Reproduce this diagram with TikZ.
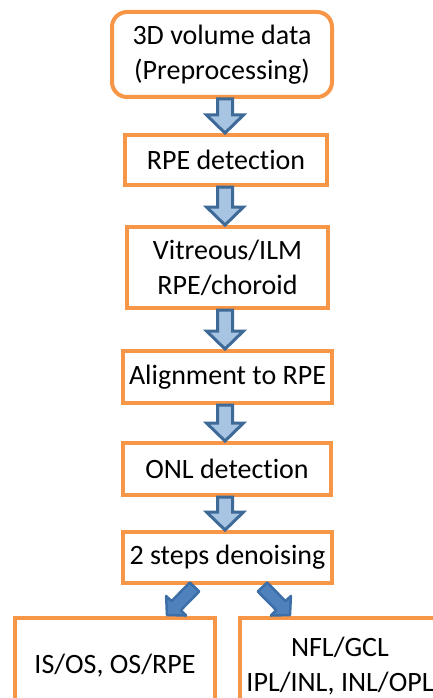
\documentclass[tikz,border=0pt]{standalone}
\usepackage{fontspec}
\setmainfont{Carlito}[Ligatures=NoCommon]
\usetikzlibrary{calc}
\definecolor{boxorange}{HTML}{F79646}
\definecolor{arrowfill}{HTML}{A7C4E2}
\definecolor{arrowline}{HTML}{3E6A98}
\definecolor{diagfill}{HTML}{4F81BD}
\definecolor{diagline}{HTML}{3C6EA8}
\tikzset{
  stepbox/.style={draw=boxorange, line width=4pt, fill=white, inner sep=0pt,
    align=center, font=\fontsize{28}{35}\selectfont},
  vblock/.style={draw=arrowline, fill=arrowfill, line width=3pt, line join=miter},
  dblock/.style={draw=diagline, fill=diagfill, line width=2.5pt, line join=round},
}
% #1 style, #2 from, #3 to, #4 shaft half width, #5 head half width, #6 head length
\newcommand\blockarrow[6]{%
  \draw[#1] let \p1=($(#3)!#6!(#2)$) in
    ($(#2)!#4!90:(#3)$) -- ($(\p1)!#4!90:(#3)$) -- ($(\p1)!#5!90:(#3)$) -- (#3)
    -- ($(\p1)!#5!-90:(#3)$) -- ($(\p1)!#4!-90:(#3)$) -- ($(#2)!#4!-90:(#3)$) -- cycle;}
\begin{document}
\begin{tikzpicture}[x=1pt,y=-1pt]
\useasboundingbox (0,0) rectangle (433,698);
\begin{scope}
\clip (0,0) rectangle (433,698);
\node[stepbox, rounded corners=15pt, minimum width=220pt, minimum height=85pt] (b1) at (222,54.5) {3D volume data\\(Preprocessing)};
\node[stepbox, minimum width=202pt, minimum height=50pt] (b2) at (226,160) {RPE detection};
\node[stepbox, minimum width=201pt, minimum height=81pt] (b3) at (227.5,267.5) {Vitreous/ILM\\RPE/choroid};
\node[stepbox, minimum width=209pt, minimum height=52pt] (b4) at (227.5,377) {Alignment to RPE};
\node[stepbox, minimum width=208pt, minimum height=52pt] (b5) at (227,469) {ONL detection};
\node[stepbox, minimum width=209pt, minimum height=51pt] (b6) at (227.5,557.5) {2 steps denoising};
\node[stepbox, minimum width=200pt, minimum height=96pt] (b7) at (115,666) {IS/OS, OS/RPE};
\node[stepbox, minimum width=200pt, minimum height=96pt] (b8) at (340,666) {NFL/GCL\\IPL/INL, INL/OPL};
\coordinate (axis) at (225,0);
\coordinate (a1s) at (axis |- b1.south); \coordinate (a1e) at (axis |- b2.north);
\coordinate (a2s) at (axis |- b2.south); \coordinate (a2e) at (axis |- b3.north);
\coordinate (a3s) at (axis |- b3.south); \coordinate (a3e) at (axis |- b4.north);
\coordinate (a4s) at (axis |- b4.south); \coordinate (a4e) at (axis |- b5.north);
\coordinate (a5s) at (axis |- b5.south); \coordinate (a5e) at (axis |- b6.north);
\coordinate (d1s) at ($(b6.south)+(-33,2)$); \coordinate (d1e) at ($(b7.north)+(52,-1)$);
\coordinate (d2s) at ($(b6.south)+(35,2)$);  \coordinate (d2e) at ($(b8.north)+(-50,-1)$);
\blockarrow{vblock}{a1s}{a1e}{7.5pt}{18.5pt}{18pt}
\blockarrow{vblock}{a2s}{a2e}{7.5pt}{18.5pt}{18pt}
\blockarrow{vblock}{a3s}{a3e}{7.5pt}{18.5pt}{18pt}
\blockarrow{vblock}{a4s}{a4e}{7.5pt}{18.5pt}{18pt}
\blockarrow{vblock}{a5s}{a5e}{7.5pt}{18.5pt}{18pt}
\blockarrow{dblock}{d1s}{d1e}{6.5pt}{14pt}{13pt}
\blockarrow{dblock}{d2s}{d2e}{6.5pt}{14pt}{13pt}
\end{scope}
\end{tikzpicture}
\end{document}
